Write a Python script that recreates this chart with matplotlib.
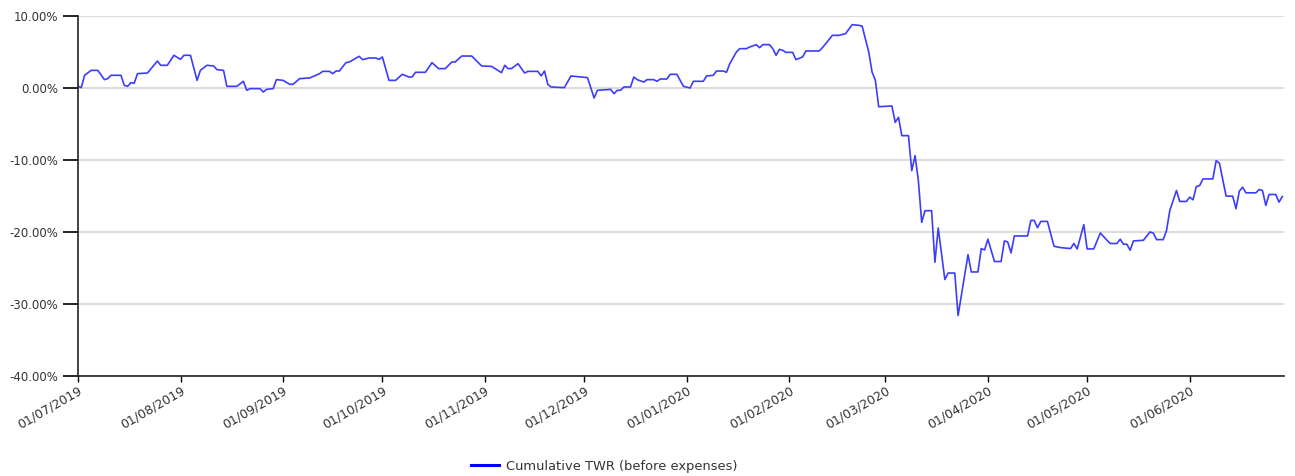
import matplotlib.pyplot as plt
import matplotlib.dates as mdates
import matplotlib.ticker as mticker
import pandas as pd

# Data: days since 01/07/2019 and cumulative TWR (%)
start_date = '2019-07-01'
day_offsets = [0, 1, 2, 4, 6, 8, 9, 10, 13, 14, 15, 16, 17, 18, 21, 24, 25, 27, 29, 31,
               32, 34, 36, 37, 39, 41, 42, 44, 45, 48, 50, 51, 52, 55, 56, 57, 59, 60, 62, 64,
               65, 67, 70, 73, 74, 76, 77, 78, 79, 81, 82, 85, 86, 88, 90, 91, 92, 94, 96, 98,
               100, 101, 102, 105, 107, 109, 111, 113, 114, 116, 119, 122, 125, 128, 129, 130, 131, 133, 135, 136,
               139, 140, 141, 142, 143, 147, 149, 152, 154, 156, 157, 161, 162, 163, 164, 165, 167, 168, 169, 171,
               172, 174, 175, 176, 178, 179, 181, 183, 185, 186, 189, 190, 192, 193, 195, 196, 197, 199, 200, 202,
               203, 205, 206, 207, 209, 210, 211, 212, 213, 214, 216, 217, 219, 220, 224, 225, 226, 228, 230, 232,
               234, 236, 237, 239, 240, 241, 242, 246, 247, 248, 249, 251, 252, 253, 254, 255, 256, 258, 259, 260,
               262, 263, 265, 266, 269, 270, 272, 273, 274, 275, 277, 279, 280, 281, 282, 283, 287, 288, 289, 290,
               291, 293, 295, 297, 300, 301, 302, 304, 305, 307, 309, 311, 312, 314, 315, 316, 317, 318, 319, 322,
               324, 325, 326, 328, 329, 330, 332, 333, 335, 336, 337, 338, 339, 340, 343, 344, 345, 347, 349, 350,
               351, 352, 353, 356, 357, 358, 359, 360, 362, 363, 364]
twr = [0.25, 0.05, 1.76, 2.45, 2.45, 1.16, 1.3, 1.76, 1.76, 0.37, 0.23, 0.74, 0.65, 1.99, 2.08, 3.75, 3.15, 3.15, 4.54, 3.98,
       4.54, 4.54, 1.06, 2.45, 3.15, 3.06, 2.55, 2.45, 0.23, 0.23, 0.93, -0.32, -0.09, -0.09, -0.56, -0.19, -0.09, 1.16, 1.06, 0.51,
       0.51, 1.3, 1.39, 1.99, 2.31, 2.31, 1.99, 2.36, 2.36, 3.52, 3.61, 4.4, 3.94, 4.17, 4.17, 3.98, 4.31, 1.06, 1.06, 1.9,
       1.53, 1.53, 2.18, 2.18, 3.52, 2.69, 2.69, 3.61, 3.61, 4.44, 4.44, 3.06, 3.0, 2.13, 3.15, 2.69, 2.69, 3.38, 2.08, 2.31,
       2.31, 1.67, 2.36, 0.51, 0.14, 0.05, 1.67, 1.53, 1.44, -1.39, -0.32, -0.19, -0.79, -0.32, -0.32, 0.14, 0.14, 1.53, 1.16, 0.83,
       1.16, 1.16, 0.93, 1.25, 1.25, 1.9, 1.9, 0.23, 0.0, 0.93, 0.93, 1.67, 1.76, 2.36, 2.36, 2.18, 3.38, 5.0, 5.46, 5.46,
       5.69, 6.02, 5.6, 6.02, 6.02, 5.46, 4.54, 5.37, 5.23, 4.95, 4.95, 3.94, 4.31, 5.14, 5.14, 5.6, 6.16, 7.31, 7.31, 7.55,
       8.8, 8.7, 8.6, 5.0, 2.22, 1.06, -2.6, -2.5, -4.77, -4.07, -6.62, -6.62, -11.48, -9.4, -12.87, -18.66, -17.04, -17.04, -24.2, -19.44,
       -26.6, -25.7, -25.7, -31.6, -23.15, -25.55, -25.55, -22.3, -22.5, -21.0, -24.1, -24.1, -21.24, -21.38, -22.9, -20.55, -20.55, -18.39, -18.39, -19.4,
       -18.53, -18.53, -21.98, -22.17, -22.3, -21.6, -22.35, -18.99, -22.35, -22.35, -20.14, -21.15, -21.6, -21.6, -21.0, -21.7, -21.7, -22.53, -21.24, -21.15,
       -20.0, -20.14, -21.06, -21.06, -19.77, -17.0, -14.24, -15.76, -15.76, -15.16, -15.53, -13.69, -13.55, -12.63, -12.63, -10.09, -10.46, -15.02, -15.02, -16.77,
       -14.33, -13.78, -14.56, -14.56, -14.1, -14.24, -16.31, -14.79, -14.79, -15.85, -15.07]

dates = pd.Timestamp(start_date) + pd.to_timedelta(day_offsets, unit='D')

fig = plt.figure(figsize=(12.95, 4.76), dpi=100)
ax = fig.add_axes([0.0602, 0.2101, 0.9313, 0.7563])

ax.plot(dates, twr, color='#3c3cff', linewidth=1.2, label='Cumulative TWR (before expenses)')

# axes range and ticks
ax.set_ylim(-40, 10)
ax.set_yticks(range(-40, 11, 10))
ax.yaxis.set_major_formatter(mticker.FuncFormatter(lambda v, p: f'{v:.2f}%'))
ax.set_xlim(pd.Timestamp(start_date), pd.Timestamp(start_date) + pd.Timedelta(days=364.5))
ax.xaxis.set_major_locator(mdates.MonthLocator(bymonthday=1))
ax.xaxis.set_major_formatter(mdates.DateFormatter('%d/%m/%Y'))

ax.grid(axis='y', color='#d9d9d9', linewidth=1.3)
ax.set_axisbelow(True)
for s in ['top', 'right']:
    ax.spines[s].set_visible(False)
for s in ['left', 'bottom']:
    ax.spines[s].set_color('#222222')
    ax.spines[s].set_linewidth(1.2)

ax.tick_params(axis='y', length=11, width=1.2, pad=3, labelsize=8.5, labelcolor='#333333')
ax.tick_params(axis='x', length=4, width=1, pad=2, labelsize=9, labelcolor='#333333')
for lbl in ax.get_xticklabels():
    lbl.set_rotation(30)
    lbl.set_ha('right')
    lbl.set_rotation_mode('anchor')

leg = fig.legend(handles=[plt.Line2D([], [], color='#0000ff', linewidth=2.2)],
                 labels=['Cumulative TWR (before expenses)'],
                 loc='center', bbox_to_anchor=(0.4665, 0.021), frameon=False,
                 fontsize=9.4, handlelength=2.2, handletextpad=0.5)
for t in leg.get_texts():
    t.set_color('#333333')

fig.savefig('out.png', dpi=100)
